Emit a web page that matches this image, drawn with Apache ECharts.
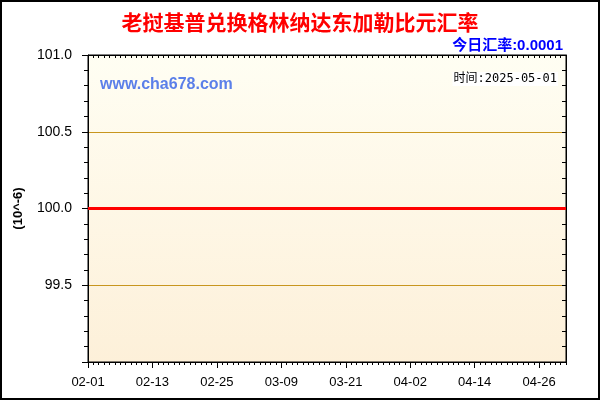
<!DOCTYPE html>
<html><head><meta charset="utf-8">
<script src="https://cdn.jsdelivr.net/npm/echarts@6/dist/echarts.min.js"></script>
<style>html,body{margin:0;padding:0;background:#fff}#c{width:600px;height:400px}</style>
</head><body><div id="c"></div>
<script>
const titleText = '老挝基普兑换格林纳达东加勒比元汇率';
const rateText = '今日汇率:0.0001';
const siteText = 'www.cha678.com';
const timeText = '时间:2025-05-01';
const unitText = '(10^-6)';
const dates = [
'02-01','02-02','02-03','02-04','02-05','02-06','02-07','02-08','02-09','02-10','02-11','02-12','02-13','02-14','02-15','02-16','02-17','02-18','02-19','02-20','02-21','02-22','02-23','02-24','02-25','02-26','02-27','02-28',
'03-01','03-02','03-03','03-04','03-05','03-06','03-07','03-08','03-09','03-10','03-11','03-12','03-13','03-14','03-15','03-16','03-17','03-18','03-19','03-20','03-21','03-22','03-23','03-24','03-25','03-26','03-27','03-28','03-29','03-30','03-31',
'04-01','04-02','04-03','04-04','04-05','04-06','04-07','04-08','04-09','04-10','04-11','04-12','04-13','04-14','04-15','04-16','04-17','04-18','04-19','04-20','04-21','04-22','04-23','04-24','04-25','04-26','04-27','04-28','04-29','04-30',
'05-01'];
const rates = [
100,100,100,100,100,100,100,100,100,100,100,100,100,100,100,100,100,100,100,100,100,100,100,100,100,100,100,100,
100,100,100,100,100,100,100,100,100,100,100,100,100,100,100,100,100,100,100,100,100,100,100,100,100,100,100,100,100,100,100,
100,100,100,100,100,100,100,100,100,100,100,100,100,100,100,100,100,100,100,100,100,100,100,100,100,100,100,100,100,100,
100];
const yMin = 99.0, yMax = 101.0, yStep = 0.5;

const chart = echarts.init(document.getElementById('c'), null, {renderer:'canvas'});
const latin = 'Liberation Sans, Arial, Noto Sans CJK SC';
chart.setOption({
  animation:false,
  backgroundColor:'#fff',
  title:[
    {text:titleText,left:'center',top:7,textStyle:{color:'#FF0000',fontSize:21,fontWeight:'bold',fontFamily:'Noto Sans CJK SC'}},
    {text:rateText,right:32,top:33,textStyle:{color:'#0000FF',fontSize:15,fontWeight:'bold',fontFamily:latin}},
    {text:siteText,left:95,top:72,textStyle:{color:'#5B7FE9',fontSize:16,fontWeight:'bold',fontFamily:latin}},
    {text:timeText,right:42,top:72,backgroundColor:'#fff',padding:[1,1],textStyle:{color:'#000',fontSize:12,fontWeight:'normal',fontFamily:'DejaVu Sans Mono, Noto Sans CJK SC'}}
  ],
  grid:{left:88,right:34,top:55,bottom:38,show:true,borderColor:'#000',borderWidth:1,
    backgroundColor:new echarts.graphic.LinearGradient(0,0,0,1,[{offset:0,color:'#FFFEF3'},{offset:1,color:'#FDF0D9'}])},
  xAxis:[
    {type:'category',data:dates,boundaryGap:false,position:'bottom',
     axisLine:{lineStyle:{color:'#000',width:1}},
     axisTick:{interval:0,length:3,lineStyle:{color:'#000'}},
     axisLabel:{interval:11,color:'#000',fontSize:13,margin:14,fontFamily:latin},
     splitLine:{show:false}},
    {type:'category',data:dates,boundaryGap:false,position:'top',
     axisLine:{lineStyle:{color:'#000'}},
     axisTick:{inside:true,interval:0,length:3,lineStyle:{color:'#000'}},
     axisLabel:{show:false},splitLine:{show:false}},
    {type:'category',data:dates,boundaryGap:false,position:'bottom',
     axisLine:{show:false},
     axisTick:{interval:11,length:6,lineStyle:{color:'#000'}},
     axisLabel:{show:false},splitLine:{show:false}}
  ],
  yAxis:[
    {type:'value',min:yMin,max:yMax,interval:yStep,position:'left',
     name:unitText,nameLocation:'middle',nameRotate:90,nameGap:63,
     nameTextStyle:{color:'#000',fontSize:13,fontWeight:'bold',fontFamily:latin},
     axisLine:{show:true,lineStyle:{color:'#000'}},
     axisTick:{show:true,length:6,lineStyle:{color:'#000'}},
     minorTick:{show:true,splitNumber:5,length:4,lineStyle:{color:'#000'}},
     axisLabel:{color:'#000',fontSize:14,margin:16,fontFamily:latin,showMinLabel:false,
       formatter:v=>v.toFixed(1)},
     splitLine:{show:true,lineStyle:{color:'#C8961E',width:1}}},
    {type:'value',min:yMin,max:yMax,interval:yStep,position:'right',
     axisLine:{show:true,lineStyle:{color:'#000'}},
     axisTick:{show:true,inside:true,length:4,lineStyle:{color:'#000'}},
     minorTick:{show:true,splitNumber:5,length:4,lineStyle:{color:'#000'}},
     axisLabel:{show:false},splitLine:{show:false}}
  ],
  series:[{type:'line',data:rates,xAxisIndex:0,yAxisIndex:0,symbol:'none',
    lineStyle:{color:'#FF0000',width:3},z:5}],
  graphic:[{type:'rect',shape:{x:1,y:1,width:598,height:398},style:{fill:'none',stroke:'#000',lineWidth:2},silent:true,z:100}]
});
</script></body></html>
